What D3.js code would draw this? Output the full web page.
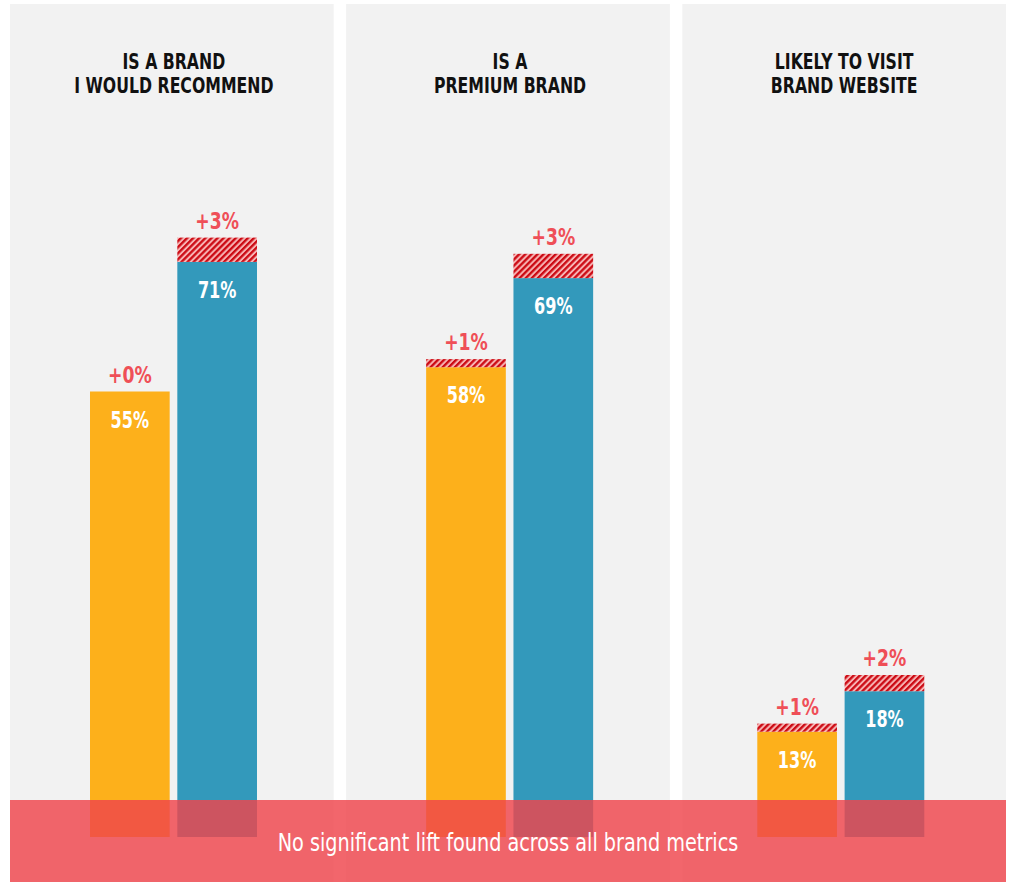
<!DOCTYPE html>
<html>
<head>
<meta charset="utf-8">
<script src="https://cdn.jsdelivr.net/npm/d3@7/dist/d3.min.js"></script>
<style>
  html, body { margin: 0; padding: 0; background: #ffffff; }
  svg { display: block; }
</style>
</head>
<body>
<svg id="chart" width="1014" height="882"></svg>
<script>
// ---- data ----
const metrics = [["IS A BRAND", "I WOULD RECOMMEND"], ["IS A", "PREMIUM BRAND"], ["LIKELY TO VISIT", "BRAND WEBSITE"]];
const groups = ["control", "exposed"];
const baseValues = [[55, 71], [58, 69], [13, 18]];
const liftValues = [[0, 3], [1, 3], [1, 2]];
const footnote = "No significant lift found across all brand metrics";

// ---- layout ----
const svg = d3.select("#chart");
const font = "'DejaVu Sans', sans-serif";
const colors = { control: "#fdb01b", exposed: "#3399bb" };

const defs = svg.append("defs");
const pat = defs.append("pattern")
  .attr("id", "hatch").attr("patternUnits", "userSpaceOnUse")
  .attr("width", 4.3).attr("height", 4.3)
  .attr("patternTransform", "rotate(45)");
pat.append("rect").attr("width", 4.3).attr("height", 4.3).attr("fill", "#f7b3b3");
pat.append("rect").attr("width", 2.3).attr("height", 4.3).attr("fill", "#cc0a14");

// condensed text helper: real text, horizontally scaled
function ctext(parent, x, yPos, str, opts) {
  const g = parent.append("g").attr("transform", `translate(${x},${yPos}) scale(${opts.sx},1)`);
  return g.append("text").attr("x", 0).attr("y", 0).attr("text-anchor", "middle")
    .attr("font-family", font).attr("font-weight", opts.weight || "normal")
    .attr("font-size", opts.size).attr("fill", opts.fill).text(str);
}

const panelX = d3.scaleBand().domain(d3.range(metrics.length)).range([10, 1006]).paddingInner(0.037);
const y = d3.scaleLinear().domain([0, 100]).range([837, 27]);

const panels = svg.selectAll("g.panel").data(metrics).join("g").attr("class", "panel")
  .attr("transform", (d, i) => `translate(${panelX(i)},0)`);

panels.append("rect").attr("x", 0).attr("y", 4).attr("width", panelX.bandwidth()).attr("height", 878)
  .attr("fill", "#f2f2f2");

const barX = d3.scaleBand().domain(groups).range([80, 247]).paddingInner(0.0875);
const bandOffsets = [0, 0, -5];

panels.each(function(title, i) {
  const g = d3.select(this);
  const cx = panelX.bandwidth() / 2 + (i === 2 ? 0 : 2);
  title.forEach((line, k) => {
    ctext(g, cx, 69 + k * 24, line, { sx: 0.715, size: 22, weight: "bold", fill: "#111" });
  });

  groups.forEach((grp, j) => {
    const v = baseValues[i][j], l = liftValues[i][j];
    const x0 = barX(grp) + bandOffsets[i];
    const bc = x0 + barX.bandwidth() / 2;
    g.append("rect").attr("x", x0).attr("y", y(v)).attr("width", barX.bandwidth())
      .attr("height", y(0) - y(v)).attr("fill", colors[grp]);
    if (l > 0) {
      g.append("rect").attr("x", x0).attr("y", y(v + l)).attr("width", barX.bandwidth())
        .attr("height", y(v) - y(v + l)).attr("fill", "url(#hatch)");
    }
    ctext(g, bc, y(v) + 36, v + "%", { sx: 0.7, size: 23, weight: "bold", fill: "#ffffff" });
    ctext(g, bc, y(v + l) - 9, "+" + l + "%", { sx: 0.75, size: 23, weight: "bold", fill: "#ef4f57" });
  });
});

// footer band
svg.append("rect").attr("x", 10).attr("y", 800).attr("width", 996).attr("height", 82)
  .attr("fill", "rgb(239,68,76)").attr("fill-opacity", 0.82);
ctext(svg, 508, 851, footnote, { sx: 0.77, size: 25, fill: "#ffffff" });
</script>
</body>
</html>
